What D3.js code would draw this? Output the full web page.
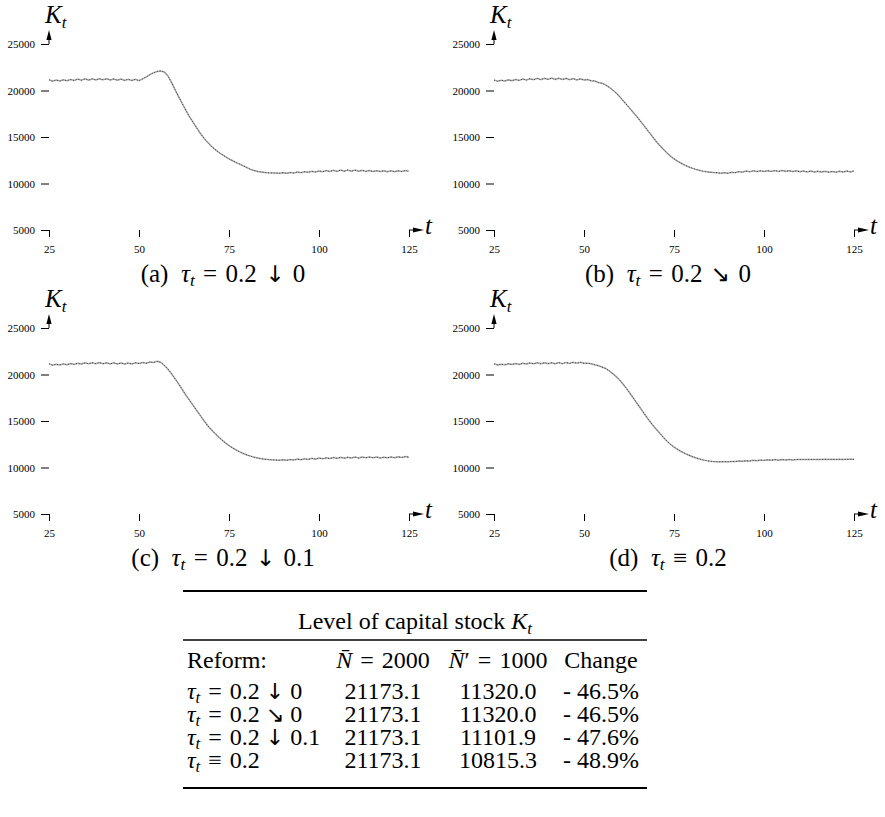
<!DOCTYPE html>
<html>
<head>
<meta charset="utf-8">
<script src="https://cdn.jsdelivr.net/npm/d3@7/dist/d3.min.js"></script>
<style>
  html, body { margin: 0; padding: 0; background: #fff; }
  svg { display: block; }
</style>
</head>
<body>
<svg id="fig" width="885" height="817"></svg>
<script>
// Capital stock K_t over time t = 25..125 under four tax reforms
const years = d3.range(25, 126);

const kDropTo0 = [
  21150, 21000, 21120, 21020, 21150, 21050, 21180, 21080, 21220, 21100,
  21250, 21120, 21260, 21140, 21270, 21150, 21260, 21130, 21240, 21100,
  21230, 21090, 21210, 21080, 21200, 21060,
  21250, 21450, 21700, 21900, 22050, 22100, 22000, 21600, 20900, 20100,
  19350, 18600, 17900, 17200, 16600, 16000, 15400, 14900, 14450, 14050,
  13700, 13400, 13120, 12880, 12650, 12450, 12250, 12080, 11900, 11700,
  11520, 11390, 11300, 11230, 11180, 11150, 11130, 11120, 11090, 11150,
  11100, 11190, 11130, 11230, 11170, 11270, 11200, 11310, 11230, 11350,
  11260, 11390, 11290, 11420, 11300, 11440, 11320, 11450, 11330, 11440,
  11310, 11420, 11300, 11400, 11290, 11380, 11280, 11370, 11270, 11360,
  11270, 11380, 11280, 11390, 11320
];

const kPhaseTo0 = [
  21120, 20990, 21100, 21020, 21140, 21050, 21180, 21090, 21230, 21120,
  21270, 21150, 21300, 21170, 21320, 21190, 21330, 21200, 21320, 21180,
  21300, 21160, 21280, 21140, 21250, 21120,
  21170, 21040, 21020, 20860, 20780, 20600, 20350, 20050, 19700, 19300,
  18850, 18400, 17950, 17500, 17050, 16550, 16050, 15550, 15050, 14550,
  14100, 13700, 13300, 12950, 12650, 12400, 12180, 11980, 11800, 11650,
  11520, 11420, 11330, 11260, 11220, 11180, 11160, 11110, 11160, 11100,
  11210, 11160, 11280, 11220, 11340, 11260, 11360, 11280, 11370, 11290,
  11380, 11300, 11390, 11300, 11400, 11310, 11380, 11280, 11360, 11260,
  11350, 11250, 11340, 11240, 11320, 11230, 11310, 11220, 11300, 11220,
  11320, 11230, 11340, 11250, 11340
];

const kDropTo01 = [
  21140, 21010, 21110, 21030, 21140, 21060, 21170, 21090, 21210, 21120,
  21250, 21150, 21270, 21170, 21280, 21160, 21260, 21140, 21250, 21130,
  21240, 21120, 21230, 21120, 21260, 21180,
  21300, 21210, 21350, 21280, 21420, 21320, 21000, 20600, 20100, 19550,
  19000, 18400, 17800, 17250, 16700, 16150, 15600, 15050, 14550, 14100,
  13700, 13320, 12980, 12650, 12350, 12100, 11880, 11680, 11500, 11350,
  11220, 11110, 11020, 10950, 10890, 10850, 10820, 10800, 10770, 10830,
  10770, 10860, 10800, 10900, 10840, 10940, 10870, 10980, 10900, 11010,
  10930, 11040, 10960, 11070, 10980, 11090, 11000, 11100, 11020, 11120,
  11030, 11120, 11040, 11130, 11040, 11120, 11030, 11110, 11040, 11130,
  11050, 11150, 11070, 11170, 11110
];

const kConst02 = [
  21150, 21020, 21110, 21040, 21150, 21070, 21180, 21090, 21210, 21130,
  21240, 21150, 21260, 21160, 21270, 21170, 21260, 21150, 21280, 21170,
  21300, 21190, 21320, 21210, 21310, 21200,
  21200, 21160, 21050, 20950, 20800, 20650, 20400, 20100, 19750, 19350,
  18900, 18400, 17850, 17300, 16750, 16200, 15650, 15100, 14600, 14150,
  13700, 13250, 12850, 12500, 12200, 11950, 11720, 11520, 11340, 11180,
  11040, 10920, 10820, 10740, 10680, 10640, 10620, 10610, 10630, 10610,
  10650, 10640, 10690, 10670, 10730, 10700, 10770, 10730, 10800, 10760,
  10820, 10780, 10850, 10790, 10860, 10800, 10860, 10820, 10870, 10850,
  10860, 10860, 10870, 10860, 10870, 10870, 10880, 10870, 10880, 10870,
  10880, 10870, 10880, 10880, 10880
];

const yTicks = [5000, 10000, 15000, 20000, 25000];
const xTicks = [25, 50, 75, 100, 125];

// Panel captions: letter, arrow symbol, final tax rate
const panelLetters = ["a", "b", "c", "d"];
const panelArrows = ["\u2193", "\u2198", "\u2193", "\u2261"];
const panelTargets = ["0", "0", "0.1", "0.2"];

// Table contents
const tableTitle = "Level of capital stock ";
const rowArrows = ["\u2193", "\u2198", "\u2193", "\u2261"];
const rowTargets = ["0", "0", "0.1", ""];
const kBefore = ["21173.1", "21173.1", "21173.1", "21173.1"];
const kAfter = ["11320.0", "11320.0", "11101.9", "10815.3"];
const kChange = ["- 46.5%", "- 46.5%", "- 47.6%", "- 48.9%"];

const series = [kDropTo0, kPhaseTo0, kDropTo01, kConst02];
const offsets = [[0, 0], [445, 0], [0, 284], [445, 284]];

const SERIF = '"Liberation Serif", "Times New Roman", serif';
const svg = d3.select("#fig");

const x = d3.scaleLinear().domain([25, 125]).range([49, 409]);
const y = d3.scaleLinear().domain([5000, 25000]).range([230, 44]);

function addText(parent, px, py, size) {
  return parent.append("text").attr("x", px).attr("y", py).attr("font-size", size)
    .style("font-family", SERIF).attr("fill", "#000");
}

// tau_t expression appended to a text element; rel and bin are the spacing characters
function tau(textSel, arrow, target, rel, bin) {
  textSel.append("tspan").attr("font-style", "italic").text("\u03C4");
  textSel.append("tspan").attr("font-style", "italic").attr("font-size", "0.7em").attr("dy", "0.22em").text("t");
  if (arrow === "\u2261") {
    textSel.append("tspan").attr("dy", "-0.15em").text(rel + "\u2261" + rel + "0.2");
  } else {
    textSel.append("tspan").attr("dy", "-0.15em").text(rel + "=" + rel + "0.2" + bin);
    textSel.append("tspan").style("font-family", '"DejaVu Sans"').attr("font-size", "0.92em").text(arrow);
    textSel.append("tspan").text(bin + target);
  }
}

series.forEach((vals, i) => {
  const [dx, dy] = offsets[i];
  const g = svg.append("g").attr("transform", `translate(${dx},${dy})`);

  const yAxis = d3.axisLeft(y).tickValues(yTicks).tickSize(8).tickPadding(6)
    .tickFormat(d3.format("d"));
  const ga = g.append("g").attr("transform", `translate(${x(25)},0)`).call(yAxis);
  ga.select(".domain").remove();
  ga.selectAll("text").attr("font-size", 11).style("font-family", SERIF);
  ga.selectAll("line").attr("stroke-width", 1);

  const xAxis = d3.axisBottom(x).tickValues(xTicks).tickSize(7).tickPadding(8);
  const gb = g.append("g").attr("transform", `translate(0,${y(5000)})`).call(xAxis);
  gb.select(".domain").remove();
  gb.selectAll("text").attr("font-size", 11).style("font-family", SERIF);
  gb.selectAll("line").attr("stroke-width", 1);

  // axis arrowheads
  const ax = x(25), top = y(25000);
  g.append("line").attr("x1", ax).attr("x2", ax).attr("y1", top).attr("y2", top - 5)
    .attr("stroke", "#000");
  g.append("path")
    .attr("d", `M${ax},${top - 14}L${ax - 2.6},${top - 4}L${ax + 2.6},${top - 4}Z`)
    .attr("fill", "#000");
  const right = x(125), base = y(5000);
  g.append("line").attr("x1", right).attr("x2", right + 4).attr("y1", base).attr("y2", base)
    .attr("stroke", "#000");
  g.append("path")
    .attr("d", `M${right + 15},${base}L${right + 4},${base - 2.6}L${right + 4},${base + 2.6}Z`)
    .attr("fill", "#000");

  // axis names
  const kl = addText(g, ax - 4, 23, 25);
  kl.append("tspan").attr("font-style", "italic").text("K");
  kl.append("tspan").attr("font-style", "italic").attr("font-size", 17).attr("dy", 5).text("t");
  addText(g, right + 16, base + 4, 25).attr("font-style", "italic").text("t");

  // series line: light core with darker speckle
  const line = d3.line().x((d, j) => x(years[j])).y(d => y(d));
  g.append("path").datum(vals).attr("d", line)
    .attr("fill", "none").attr("stroke", "#a8a8a8").attr("stroke-width", 1.5);
  g.append("path").datum(vals).attr("d", line)
    .attr("fill", "none").attr("stroke", "#404040").attr("stroke-width", 1)
    .attr("stroke-dasharray", "1,1.8");

  // caption
  const cap = addText(g, 223, 282, 25).attr("text-anchor", "middle");
  cap.append("tspan").text(`(${panelLetters[i]})\u2002`);
  tau(cap, panelArrows[i], panelTargets[i], "\u2004", "\u2004");
});

// Summary table
const t = svg.append("g");
const tl = 183, tr = 647;
t.append("line").attr("x1", tl).attr("x2", tr).attr("y1", 591).attr("y2", 591).attr("stroke", "#000").attr("stroke-width", 2);
t.append("line").attr("x1", tl).attr("x2", tr).attr("y1", 640).attr("y2", 640).attr("stroke", "#000").attr("stroke-width", 1.6);
t.append("line").attr("x1", tl).attr("x2", tr).attr("y1", 788).attr("y2", 788).attr("stroke", "#000").attr("stroke-width", 2);

const title = addText(t, 415, 629, 24).attr("text-anchor", "middle");
title.append("tspan").text(tableTitle);
title.append("tspan").attr("font-style", "italic").text("K");
title.append("tspan").attr("font-style", "italic").attr("font-size", 17).attr("dy", 5).text("t");

const colX = [383, 498, 601];
const hy = 668;
addText(t, 187, hy, 24).text("Reform:");
const h1 = addText(t, colX[0], hy, 24).attr("text-anchor", "middle");
h1.append("tspan").attr("font-style", "italic").text("N\u0304");
h1.append("tspan").text("\u2004=\u20042000");
const h2 = addText(t, colX[1], hy, 24).attr("text-anchor", "middle");
h2.append("tspan").attr("font-style", "italic").text("N\u0304");
h2.append("tspan").text("\u2032\u2004=\u20041000");
addText(t, colX[2], hy, 24).attr("text-anchor", "middle").text("Change");

const rowY = [699, 722, 745, 768];
rowY.forEach((ry, i) => {
  const lab = addText(t, 187, ry, 24);
  tau(lab, rowArrows[i], rowTargets[i], "\u2004", "\u2005");
  addText(t, colX[0], ry, 24).attr("text-anchor", "middle").text(kBefore[i]);
  addText(t, colX[1], ry, 24).attr("text-anchor", "middle").text(kAfter[i]);
  addText(t, colX[2], ry, 24).attr("text-anchor", "middle").text(kChange[i]);
});
</script>
</body>
</html>
